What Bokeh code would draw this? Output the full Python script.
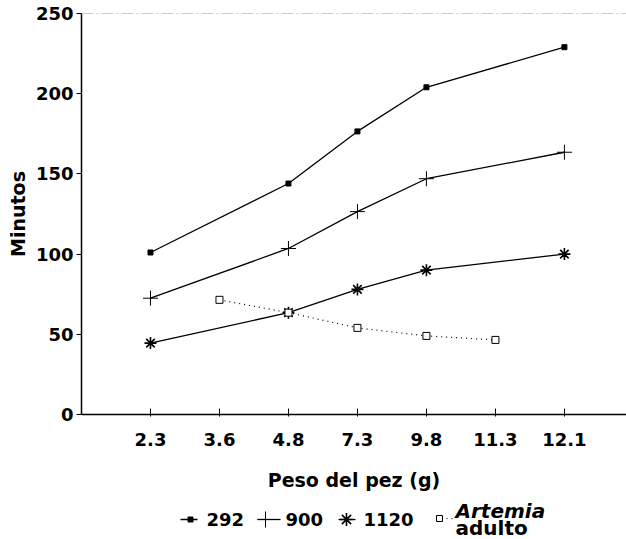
from bokeh.plotting import figure
from bokeh.layouts import column
from bokeh.models import Range1d, FixedTicker, Span, Label
from bokeh.embed import file_html
from bokeh.resources import INLINE

# categories on the x axis (fish weight, g)
x_labels = ["2.3", "3.6", "4.8", "7.3", "9.8", "11.3", "12.1"]

# series: x category -> minutes
s292_x = ["2.3", "4.8", "7.3", "9.8", "12.1"]
s292_y = [101, 144, 176.5, 204, 229]
s900_x = ["2.3", "4.8", "7.3", "9.8", "12.1"]
s900_y = [72.5, 103.5, 126.5, 147, 163.5]
s1120_x = ["2.3", "4.8", "7.3", "9.8", "12.1"]
s1120_y = [44.5, 63.5, 78, 90, 100]
art_x = ["3.6", "4.8", "7.3", "9.8", "11.3"]
art_y = [71.5, 63.5, 54, 49, 46.5]

y_ticks = [0, 50, 100, 150, 200, 250]
series_names = ["292", "900", "1120"]
art_name_1 = "Artemia"
art_name_2 = "adulto"

def pos(cats):
    return [x_labels.index(c) for c in cats]

FONT = "DejaVu Sans"
W = 626
H_MAIN = 498
H_LEG = 41
LEFT = 81

p = figure(width=W, height=H_MAIN, output_backend="svg", toolbar_location=None,
           x_range=Range1d(-1, 6.9), y_range=Range1d(0, 250),
           min_border_left=LEFT, min_border_top=13, min_border_right=0,
           min_border_bottom=H_MAIN - 414)
p.outline_line_color = None
p.grid.grid_line_color = None

# top dashed gray border
p.add_layout(Span(location=250, dimension="width", line_color="#9a9a9a",
                  line_width=1, line_dash="12 3 2 3"))

STY = [
    dict(marker="square", size=5, fill_color="black", line_color="black", line_width=1),
    dict(marker="cross", size=15, line_color="black", line_width=1),
    dict(marker="asterisk", size=12, line_color="black", line_width=1.6),
]
SERIES = [(s292_x, s292_y), (s900_x, s900_y), (s1120_x, s1120_y)]
for (xs, ys), st in zip(SERIES, STY):
    p.line(pos(xs), ys, line_color="black", line_width=1.3)
    p.scatter(pos(xs), ys, **st)
ART_LINE = dict(line_color="black", line_width=1.2, line_dash="1 4")
ART_MARK = dict(marker="square", size=7, fill_color="white", line_color="black", line_width=1)
p.line(pos(art_x), art_y, **ART_LINE)
p.scatter(pos(art_x), art_y, **ART_MARK)

# axes
p.xaxis.ticker = FixedTicker(ticks=list(range(len(x_labels))))
p.xaxis.major_label_overrides = {i: lab for i, lab in enumerate(x_labels)}
p.xaxis.minor_tick_line_color = None
p.xaxis.major_tick_in = 6
p.xaxis.major_tick_out = 2
p.xaxis.major_label_standoff = 16
p.xaxis.axis_label = "Peso del pez (g)"
p.xaxis.axis_label_standoff = 20
p.yaxis.ticker = FixedTicker(ticks=y_ticks)
p.yaxis.minor_tick_line_color = None
p.yaxis.major_tick_in = 0
p.yaxis.major_tick_out = 5
p.yaxis.major_label_standoff = 3
p.yaxis.axis_label = "Minutos"
p.yaxis.axis_label_standoff = 4
for ax in (p.xaxis, p.yaxis):
    ax.axis_line_color = "black"
    ax.axis_line_width = 1.5
    ax.major_tick_line_color = "black"
    ax.major_label_text_font = FONT
    ax.major_label_text_font_style = "bold"
    ax.major_label_text_font_size = "18px"
    ax.major_label_text_color = "black"
    ax.axis_label_text_font = FONT
    ax.axis_label_text_font_style = "bold"
    ax.axis_label_text_font_size = "19px"
    ax.axis_label_text_color = "black"

# legend strip below: its frame is aligned with the main frame (starts at x=LEFT),
# and its ranges are in screen pixels so the legend keys can be laid out directly
lg = figure(width=W, height=H_LEG, output_backend="svg", toolbar_location=None,
            x_range=Range1d(LEFT, W), y_range=Range1d(0, H_LEG),
            min_border=0, min_border_left=LEFT, min_border_right=0,
            min_border_top=0, min_border_bottom=0)
lg.axis.visible = False
lg.grid.grid_line_color = None
lg.outline_line_color = None

ROW = 20          # key row (px from strip bottom)
# layout of legend keys: (line start, line end, marker centre, text start)
KEYS = [(180, 197, 190, 206), (257, 280, 265, 285), (338, 355, 346, 363)]
KEY_STY = [
    dict(marker="square", size=5, fill_color="black", line_color="black", line_width=1),
    dict(marker="cross", size=16, line_color="black", line_width=1),
    dict(marker="asterisk", size=13, line_color="black", line_width=1.6),
]
for name, (a, b, c, t), st in zip(series_names, KEYS, KEY_STY):
    lg.segment(x0=[a], y0=[ROW], x1=[b], y1=[ROW], line_color="black", line_width=1.3)
    lg.scatter(x=[c], y=[ROW], **st)
    lg.add_layout(Label(x=t, y=ROW, text=name, text_font=FONT, text_font_style="bold",
                        text_font_size="18px", text_baseline="middle", text_color="black"))
# Artemia key
lg.segment(x0=[441], y0=[ROW + 1], x1=[452], y1=[ROW + 1], **ART_LINE)
lg.scatter(x=[439], y=[ROW + 1], marker="square", size=6, fill_color="white",
           line_color="black", line_width=1)
lg.add_layout(Label(x=455, y=29, text=art_name_1, text_font=FONT, text_font_style="bold italic",
                    text_font_size="20px", text_baseline="middle", text_color="black"))
lg.add_layout(Label(x=455, y=12, text=art_name_2, text_font=FONT, text_font_style="bold",
                    text_font_size="20px", text_baseline="middle", text_color="black"))

layout = column(p, lg, spacing=0)
open("out.html", "w").write(file_html(layout, INLINE))
